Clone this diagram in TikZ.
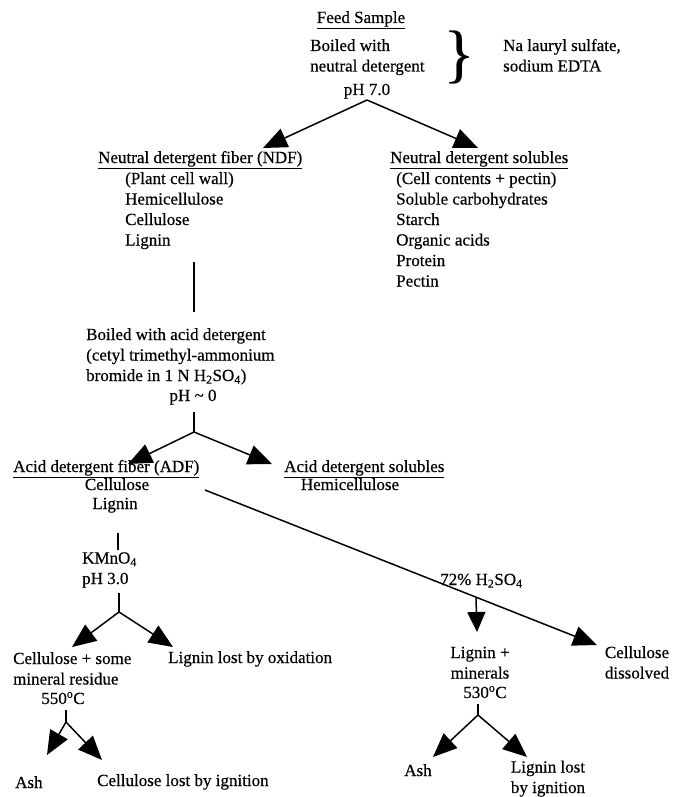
\documentclass[tikz,border=0pt]{standalone}
\usepackage{fontspec}
\setmainfont{Liberation Serif}[FakeBold=0.4]
\usetikzlibrary{arrows.meta}
\begin{document}
\begin{tikzpicture}[x=1pt,y=-1pt,
  lbl/.style={inner sep=0pt, font=\fontsize{17}{20.5}\selectfont},
  ln/.style={line width=1.5pt},
  arr/.style={line width=1.5pt, -{Triangle[length=24pt,width=20pt]}},
  sarr/.style={line width=1.5pt, -{Triangle[length=20pt,width=18pt]}}]
\useasboundingbox (0,0) rectangle (673,797);

% multi-line labels are placed by the baseline of their last line

% --- neutral detergent step ---
\node[lbl, anchor=base] (feed) at (361,23) {\underline{Feed Sample}};
\node[lbl, anchor=base west, align=left] (boil) at (310,71.5) {Boiled with\\neutral detergent};
\node[lbl, anchor=base] (ph7) at (367,95) {pH 7.0};
\node[lbl, font=\fontsize{64}{64}\selectfont] (brace) at (459,57) {\}};
\node[lbl, anchor=base west, align=left] (na) at (503,71.5) {Na lauryl sulfate,\\sodium EDTA};

\coordinate (s1) at (367,100);
\coordinate (t1) at (263,148);
\coordinate (t2) at (478,148);
\draw[arr] (s1) -- (t1);
\draw[arr] (s1) -- (t2);

\node[lbl, anchor=base west] (ndf) at (98,163) {\underline{Neutral detergent fiber (NDF)}};
\node[lbl, anchor=base west, align=left] (ndfl) at (125,245.5) {(Plant cell wall)\\Hemicellulose\\Cellulose\\Lignin};
\node[lbl, anchor=base west] (nds) at (390,163) {\underline{Neutral detergent solubles}};
\node[lbl, anchor=base west, align=left] (ndsl) at (396,286.5) {(Cell contents + pectin)\\Soluble carbohydrates\\Starch\\Organic acids\\Protein\\Pectin};

% --- acid detergent step ---
\coordinate (v1) at (194,262);
\coordinate (v2) at (194,312);
\draw[ln] (v1) -- (v2);
\node[lbl, anchor=base west, align=left] (acid) at (86,381) {Boiled with acid detergent\\(cetyl trimethyl-ammonium\\bromide in 1 N H\textsubscript{2}SO\textsubscript{4})};
\node[lbl, anchor=base] (ph0) at (193,401) {pH \textasciitilde\ 0};

\coordinate (v3) at (194,412);
\coordinate (s2) at (194,432);
\coordinate (t3) at (128,464);
\coordinate (t4) at (272,464);
\draw[ln] (v3) -- (s2);
\draw[arr] (s2) -- (t3);
\draw[arr] (s2) -- (t4);

\node[lbl, anchor=base west] (adf) at (13,472) {\underline{Acid detergent fiber (ADF)}};
\node[lbl, anchor=base] (adfc) at (117,490) {Cellulose};
\node[lbl, anchor=base] (adfl) at (115,509) {Lignin};
\node[lbl, anchor=base west] (ads) at (284,472) {\underline{Acid detergent solubles}};
\node[lbl, anchor=base] (adsh) at (350,490) {Hemicellulose};

% --- sulfuric acid branch ---
\coordinate (d1) at (205,490);
\coordinate (t5) at (597,645);
\draw[arr] (d1) -- (t5);
\node[lbl, anchor=base west] (h2so4) at (440,585) {72\% H\textsubscript{2}SO\textsubscript{4}};
\coordinate (d2) at (476,598);
\coordinate (t6) at (477,632);
\draw[sarr] (d2) -- (t6);

\node[lbl, anchor=base, align=center] (lgm) at (480,678.5) {Lignin +\\minerals};
\node[lbl, anchor=base] (t530) at (485,698) {530\textsuperscript{o}C};
\node[lbl, anchor=base, align=center] (cdis) at (637,678.5) {Cellulose\\dissolved};

\coordinate (v4) at (478,704);
\coordinate (s3) at (478,715);
\coordinate (t7) at (433,757);
\coordinate (t8) at (527,757);
\draw[ln] (v4) -- (s3);
\draw[arr] (s3) -- (t7);
\draw[arr] (s3) -- (t8);
\node[lbl, anchor=base] (ash2) at (418,776) {Ash};
\node[lbl, anchor=base, align=center] (llig) at (548,793) {Lignin lost\\by ignition};

% --- permanganate branch ---
\coordinate (v5) at (118,533);
\coordinate (v6) at (118,550);
\draw[ln] (v5) -- (v6);
\node[lbl, anchor=base west, align=left] (kmn) at (82,584) {KMnO\textsubscript{4}\\pH 3.0};
\coordinate (v7) at (119,593);
\coordinate (s4) at (119,612);
\coordinate (t9) at (72,647);
\coordinate (t10) at (173,647);
\draw[ln] (v7) -- (s4);
\draw[arr] (s4) -- (t9);
\draw[arr] (s4) -- (t10);

\node[lbl, anchor=base west, align=left] (cmr) at (13,684.5) {Cellulose + some\\mineral residue};
\node[lbl, anchor=base] (t550) at (63,704) {550\textsuperscript{o}C};
\node[lbl, anchor=base west] (lox) at (168,663) {Lignin lost by oxidation};

\coordinate (v8) at (66,710);
\coordinate (s5) at (66,722);
\coordinate (t11) at (47,755);
\coordinate (t12) at (102,760);
\draw[ln] (v8) -- (s5);
\draw[arr] (s5) -- (t11);
\draw[arr] (s5) -- (t12);
\node[lbl, anchor=base west] (ash1) at (15,788) {Ash};
\node[lbl, anchor=base west] (clig) at (97,786) {Cellulose lost by ignition};
\end{tikzpicture}
\end{document}
